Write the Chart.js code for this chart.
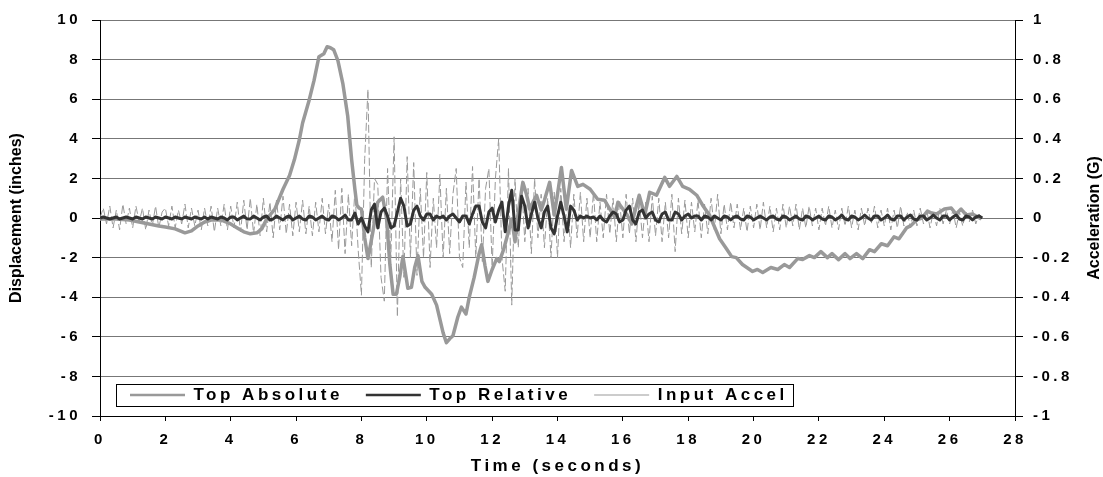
<!DOCTYPE html>
<html>
<head>
<meta charset="utf-8">
<title>Top Absolute / Top Relative / Input Accel</title>
<script src="https://cdn.jsdelivr.net/npm/chart.js@4.4.1/dist/chart.umd.min.js"></script>
<style>
  html, body { margin: 0; padding: 0; background: #fff; }
  #wrap { width: 1103px; height: 477px; }
</style>
</head>
<body>
<div id="wrap"><canvas id="chart" width="1103" height="477"></canvas></div>
<script>
const FONT = "'Liberation Sans', Arial, sans-serif";
const SPACING = "3.5px";

// axis ticks
const timeTicks = [0, 2, 4, 6, 8, 10, 12, 14, 16, 18, 20, 22, 24, 26, 28];
const dispTicks = [-10, -8, -6, -4, -2, 0, 2, 4, 6, 8, 10];
const accelTicks = [-1, -0.8, -0.6, -0.4, -0.2, 0, 0.2, 0.4, 0.6, 0.8, 1];

// Top Absolute (inches) at uneven times (s)
const absTime = [
  0, 0.5, 0.9, 1.2, 1.5, 1.8, 2.0, 2.3, 2.6, 2.8,
  3.0, 3.2, 3.4, 3.7, 4.0, 4.2, 4.4, 4.6, 4.8, 4.95,
  5.1, 5.35, 5.6, 5.8, 5.95, 6.1, 6.2, 6.4, 6.55, 6.7,
  6.85, 6.95, 7.05, 7.15, 7.28, 7.43, 7.58, 7.7, 7.8, 7.86,
  7.93, 8.0, 8.1, 8.2, 8.35, 8.5, 8.65, 8.77, 8.87, 8.97,
  9.07, 9.17, 9.27, 9.42, 9.53, 9.63, 9.73, 9.85, 9.95, 10.15,
  10.3, 10.5, 10.6, 10.7, 10.8, 10.95, 11.06, 11.2, 11.3, 11.45,
  11.6, 11.68, 11.78, 11.87, 12.0, 12.14, 12.22, 12.35, 12.44, 12.6,
  12.7, 12.8, 12.94, 13.05, 13.15, 13.25, 13.36, 13.5, 13.6, 13.76,
  13.9, 14.0, 14.12, 14.27, 14.43, 14.62, 14.78, 15.0, 15.23, 15.44,
  15.6, 15.75, 15.85, 16.0, 16.15, 16.27, 16.5, 16.67, 16.82, 17.03,
  17.28, 17.43, 17.65, 17.83, 18.04, 18.26, 18.44, 18.65, 18.96, 19.17,
  19.33, 19.47, 19.66, 19.97, 20.12, 20.28, 20.53, 20.74, 20.94, 21.1,
  21.35, 21.5, 21.71, 21.86, 22.06, 22.26, 22.4, 22.6, 22.8, 22.95,
  23.15, 23.34, 23.55, 23.7, 23.91, 24.1, 24.3, 24.45, 24.68, 24.8,
  24.99, 25.15, 25.32, 25.45, 25.6, 25.84, 26.05, 26.2, 26.35, 26.51,
  26.7, 26.97
];
const absDisp = [
  -0.05, -0.05, -0.1, -0.2, -0.3, -0.4, -0.45, -0.55, -0.75, -0.65,
  -0.4, -0.2, -0.1, -0.1, -0.3, -0.5, -0.7, -0.8, -0.75, -0.55,
  -0.05, 0.45, 1.45, 2.15, 2.95, 3.95, 4.8, 5.95, 6.95, 8.15,
  8.3, 8.65, 8.6, 8.5, 7.95, 6.8, 5.15, 2.95, 1.45, 0.65,
  0.5, 0.45, -1.0, -2.05, -0.7, 0.8, 1.05, -0.05, -2.35, -3.85,
  -3.85, -3.0, -1.95, -3.55, -3.5, -2.5, -1.9, -3.2, -3.5, -3.85,
  -4.4, -5.8, -6.3, -6.1, -5.95, -5.0, -4.5, -4.85, -4.0, -3.0,
  -1.8, -1.35, -2.4, -3.2, -2.6, -2.05, -2.2, -1.6, -1.05, -0.05,
  -1.2, 0.3, 1.8, 1.2, 0.45, 0.8, 1.15, 0.4, 0.9, 1.8,
  0.15, 1.2, 2.55, 0.45, 2.4, 1.6, 1.7, 1.45, 0.95, 0.9,
  0.45, 0.05, 0.8, 0.45, 0.1, -0.3, 1.15, 0.15, 1.3, 1.15,
  2.05, 1.6, 2.1, 1.6, 1.45, 1.15, 0.65, 0.15, -1.05, -1.55,
  -1.95, -2.0, -2.35, -2.7, -2.6, -2.75, -2.5, -2.6, -2.35, -2.5,
  -2.05, -2.1, -1.9, -2.0, -1.7, -2.0, -1.8, -2.1, -1.8, -2.05,
  -1.8, -2.05, -1.6, -1.7, -1.3, -1.4, -0.95, -1.05, -0.5, -0.4,
  -0.1, 0.0, 0.35, 0.25, 0.2, 0.45, 0.5, 0.2, 0.45, 0.15,
  0.2, -0.05
];

// Top Relative (inches) and Input Accel (G), one value every 0.1 s from 0 to 27 s
const sampleStep = 0.1;
const relDisp = [
  0, 0.05, 0, -0.05, 0, 0.05, -0.05, 0, 0.05, 0,
  -0.05, 0.05, 0, -0.05, 0.05, 0, -0.05, 0.05, 0, -0.05,
  0.05, 0, -0.05, 0.05, 0, -0.05, 0.05, 0, -0.05, 0.05,
  0, -0.05, 0.05, -0.05, 0.05, 0, -0.05, 0.05, 0, -0.1,
  0.05, 0.05, -0.1, 0, 0.1, -0.05, -0.05, 0.1, 0, -0.1,
  0.05, 0.1, -0.1, -0.05, 0.1, 0, -0.1, 0.05, 0.1, -0.1,
  0, 0.1, -0.05, -0.1, 0.1, 0.05, -0.1, 0, 0.1, -0.05,
  -0.1, 0.1, 0.05, -0.1, 0, 0.15, -0.1, -0.1, 0.25, -0.3,
  0, -0.4, -0.7, 0.4, 0.7, -0.5, 0.3, 0.5, 0.1, -0.5,
  -0.4, 0.3, 1.0, 0.6, -0.4, -0.3, 0.4, 0.6, 0.1, -0.1,
  0.2, 0.2, -0.1, 0.1, 0, 0.1, -0.1, 0.1, 0.2, 0,
  -0.2, 0.1, 0.1, -0.3, 0.2, 0.6, 0.6, -0.2, -0.5, 0.3,
  0.5, -0.2, 0.4, 0.8, -0.7, 0.6, 1.4, -0.6, -0.6, 1.1,
  0.6, -0.5, 0.2, 0.8, 0, -0.5, 0.3, 0.6, -0.5, -0.8,
  0.1, 0.8, 0.1, -0.7, 0.6, 0.4, -0.1, 0.1, 0, 0.1,
  0, 0.05, -0.1, 0.1, -0.1, -0.2, 0.1, 0.3, 0.2, -0.2,
  -0.1, 0.4, 0.6, -0.1, -0.3, 0.3, 0.4, 0, 0.2, 0.3,
  -0.1, -0.2, 0.2, 0.3, -0.1, -0.1, 0.3, 0.2, -0.1, 0.1,
  0.2, 0, 0.1, 0.1, -0.1, 0.1, 0.05, -0.1, 0.1, 0,
  -0.1, 0.1, 0.05, -0.1, 0.05, 0.1, -0.05, -0.1, 0.1, 0.05,
  -0.1, 0, 0.1, 0, -0.1, 0.05, 0.1, -0.05, -0.1, 0.1,
  0.05, -0.1, 0, 0.1, -0.05, -0.1, 0.1, 0.05, -0.1, 0,
  0.1, -0.05, -0.1, 0.1, 0.05, -0.1, 0, 0.15, -0.05, -0.1,
  0.1, 0.05, -0.1, 0, 0.15, 0, -0.1, 0.1, 0.1, -0.1,
  0, 0.15, -0.05, -0.1, 0.1, 0.1, -0.1, 0.05, 0.15, -0.05,
  -0.1, 0.1, 0.1, -0.1, 0, 0.15, 0, -0.1, 0.1, 0.1,
  -0.1, 0.05, 0.15, -0.05, -0.1, 0.1, 0.05, -0.1, 0.05, 0.1,
  0
];
const inputAccel = [
  0, 0.05, -0.03, 0.06, -0.05, 0.04, -0.06, 0.07, -0.03, 0.05,
  -0.05, 0.06, -0.02, 0.05, -0.06, 0.04, -0.04, 0.06, -0.05, 0.03,
  0.05, -0.04, 0.06, -0.05, 0.04, -0.03, 0.07, -0.05, 0.05, -0.04,
  0.04, -0.06, 0.05, -0.04, 0.06, -0.07, 0.05, -0.04, 0.07, -0.06,
  0.06, -0.05, 0.08, -0.07, 0.09, -0.06, 0.1, -0.08, 0.07, -0.09,
  0.1, -0.07, 0.08, -0.1, 0.09, -0.06, 0.11, -0.08, 0.07, -0.09,
  0.08, -0.07, 0.09, -0.08, 0.06, -0.09, 0.08, -0.07, 0.1, -0.08,
  0.07, -0.12, 0.14, -0.16, 0.15, -0.18, 0.12, -0.14, 0.14, -0.16,
  -0.39, 0.3, 0.65, -0.25, 0.2, 0.17, -0.3, -0.42, 0.25, -0.2,
  0.41, -0.5, 0.2, -0.3, 0.31, -0.2, 0.28, -0.29, 0.15, -0.2,
  0.23, -0.25, 0.1, -0.15, 0.22, -0.2, 0.15, -0.18, 0.12, 0.25,
  -0.2, -0.25, 0.18, -0.15, 0.26, -0.2, 0.2, -0.22, 0.15, 0.25,
  -0.25, 0.2, 0.4, -0.2, -0.37, 0.25, -0.44, 0.2, -0.15, 0.18,
  -0.12, 0.15, -0.18, 0.2, -0.1, 0.12, -0.15, 0.1, -0.2, 0.13,
  -0.2, 0.15, -0.12, 0.1, -0.15, 0.12, -0.1, 0.13, -0.12, 0.1,
  -0.1, 0.13, -0.12, 0.08, -0.1, 0.12, -0.08, 0.1, -0.12, 0.09,
  -0.1, 0.12, -0.08, 0.1, -0.12, 0.09, -0.1, 0.08, -0.12, 0.11,
  -0.09, 0.1, -0.12, 0.08, -0.1, 0.12, -0.17, 0.1, -0.08, 0.09,
  -0.1, 0.08, -0.07, 0.09, -0.1, 0.07, -0.08, 0.1, -0.06, 0.12,
  -0.08, 0.07, -0.06, 0.08, -0.05, 0.07, -0.06, 0.05, -0.07, 0.06,
  -0.05, 0.07, -0.06, 0.08, -0.05, 0.06, -0.07, 0.05, -0.06, 0.07,
  -0.05, 0.06, -0.04, 0.07, -0.06, 0.05, -0.05, 0.06, -0.04, 0.05,
  -0.06, 0.05, -0.04, 0.06, -0.05, 0.04, -0.06, 0.05, -0.04, 0.06,
  -0.05, 0.04, -0.06, 0.05, -0.04, 0.05, -0.03, 0.06, -0.05, 0.04,
  -0.04, 0.05, -0.06, 0.04, -0.05, 0.06, -0.04, 0.03, -0.05, 0.04,
  -0.04, 0.05, -0.03, 0.04, -0.05, 0.03, -0.04, 0.05, -0.03, 0.04,
  -0.03, 0.04, -0.05, 0.03, -0.04, 0.03, -0.02, 0.04, -0.03, 0.02,
  0
];

const toPoints = (xs, ys) => ys.map((y, i) => ({ x: xs[i], y }));
const sampled = (ys) => ys.map((y, i) => ({ x: +(i * sampleStep).toFixed(1), y }));
const useTicks = (list) => (scale) => { scale.ticks = list.map((value) => ({ value })); };

const tickFont = { family: FONT, size: 15, weight: "bold" };

// legend keys are drawn a bit thinner than the plotted lines
const legendLabels = (chart) =>
  Chart.defaults.plugins.legend.labels.generateLabels(chart)
    .map((item) => ({ ...item, lineWidth: Math.min(item.lineWidth, 2.5) }));

// Excel-ish touches: letter spaced text, legend box inside the plot,
// right title reading bottom to top
const excelLook = {
  id: "excelLook",
  beforeLayout(chart) {
    chart.ctx.letterSpacing = SPACING;
    const legend = chart.legend;
    if (legend && !legend.flat) {
      const fit = legend.fit;
      legend.fit = function () { fit.call(this); this.height = 0; };
      legend.flat = true;
    }
  },
  afterLayout(chart) {
    const legend = chart.legend;
    const area = chart.chartArea;
    legend.left = area.left + 7;
    legend.right = area.right;
    legend.width = legend.right - legend.left;
    legend.top = area.bottom - 52.5;
  },
  beforeDraw(chart) {
    chart.ctx.letterSpacing = SPACING;
    const y = chart.scales.y;
    const y1 = chart.scales.y1;
    if (y.plain) return;
    y.plain = true;
    const drawLeft = y.drawTitle;
    y.drawTitle = function () {
      this.ctx.save();
      this.ctx.letterSpacing = "0px";
      drawLeft.call(this);
      this.ctx.restore();
    };
    y1.drawTitle = function () {
      const ctx = this.ctx;
      const title = this.options.title;
      ctx.save();
      ctx.letterSpacing = "0px";
      ctx.translate(this.right - 8, (this.top + this.bottom) / 2);
      ctx.rotate(-Math.PI / 2);
      ctx.font = "bold 16px " + FONT;
      ctx.fillStyle = title.color;
      ctx.textAlign = "center";
      ctx.textBaseline = "middle";
      ctx.fillText(title.text, 0, 0);
      ctx.restore();
    };
  },
  afterDraw(chart) {
    const boxes = chart.legend.legendHitBoxes;
    if (!boxes || !boxes.length) return;
    const first = boxes[0];
    const last = boxes[boxes.length - 1];
    const mid = first.top + first.height / 2;
    const ctx = chart.ctx;
    ctx.save();
    ctx.strokeStyle = "#000";
    ctx.lineWidth = 1;
    const x0 = Math.round(first.left - 14) + 0.5;
    const y0 = Math.round(mid - 11) + 0.5;
    ctx.strokeRect(x0, y0, Math.round(last.left + last.width + 6 - x0), 22);
    ctx.restore();
  }
};

new Chart(document.getElementById("chart"), {
  type: "line",
  data: {
    datasets: [
      {
        label: "Top Absolute",
        data: toPoints(absTime, absDisp),
        yAxisID: "y",
        borderColor: "#999999",
        borderWidth: 3.5,
        order: 1
      },
      {
        label: "Top Relative",
        data: sampled(relDisp),
        yAxisID: "y",
        borderColor: "#333333",
        borderWidth: 3,
        order: 0
      },
      {
        label: "Input Accel",
        data: sampled(inputAccel),
        yAxisID: "y1",
        borderColor: "#999999",
        borderWidth: 1,
        borderDash: [8, 3],
        order: 2
      }
    ]
  },
  options: {
    responsive: false,
    devicePixelRatio: 1,
    animation: false,
    events: [],
    layout: { padding: { top: 16, left: 0, right: 0, bottom: 0 } },
    elements: {
      point: { radius: 0 },
      line: { tension: 0, fill: false, borderJoinStyle: "round" }
    },
    plugins: {
      tooltip: { enabled: false },
      legend: {
        position: "bottom",
        align: "start",
        labels: {
          usePointStyle: true,
          pointStyle: "line",
          pointStyleWidth: 55,
          padding: 23,
          color: "#000",
          font: { family: FONT, size: 17, weight: "bold" },
          generateLabels: legendLabels,
          sort: (a, b) => a.datasetIndex - b.datasetIndex
        }
      }
    },
    scales: {
      x: {
        type: "linear",
        min: 0,
        max: 28,
        afterBuildTicks: useTicks(timeTicks),
        afterFit: (s) => { s.height = 61; },
        grid: { drawOnChartArea: false, tickLength: 5, tickColor: "#000" },
        border: { color: "#000" },
        ticks: { color: "#000", font: tickFont, padding: 10, maxRotation: 0, autoSkip: false },
        title: {
          display: true,
          text: "Time (seconds)",
          color: "#000",
          font: { family: FONT, size: 17, weight: "bold" },
          padding: { top: 0, bottom: 0 }
        }
      },
      y: {
        position: "left",
        min: -10,
        max: 10,
        afterBuildTicks: useTicks(dispTicks),
        afterFit: (s) => { s.width = 100; },
        grid: { color: "#777", tickColor: "#000", tickLength: 8 },
        border: { color: "#000" },
        ticks: { color: "#000", font: tickFont, padding: 11, autoSkip: false },
        title: {
          display: true,
          text: "Displacement (inches)",
          color: "#000",
          font: { family: FONT, size: 16, weight: "bold" },
          padding: { top: 7, bottom: 0 }
        }
      },
      y1: {
        position: "right",
        min: -1,
        max: 1,
        afterBuildTicks: useTicks(accelTicks),
        afterFit: (s) => { s.width = 88; },
        grid: { drawOnChartArea: false, tickColor: "#000", tickLength: 8 },
        border: { color: "#000" },
        ticks: {
          color: "#000",
          font: tickFont,
          padding: 10,
          autoSkip: false,
          callback: (v) => String(Math.round(v * 10) / 10)
        },
        title: {
          display: true,
          text: "Acceleration (G)",
          color: "#000",
          font: { family: FONT, size: 16, weight: "bold" }
        }
      }
    }
  },
  plugins: [excelLook]
});
</script>
</body>
</html>
